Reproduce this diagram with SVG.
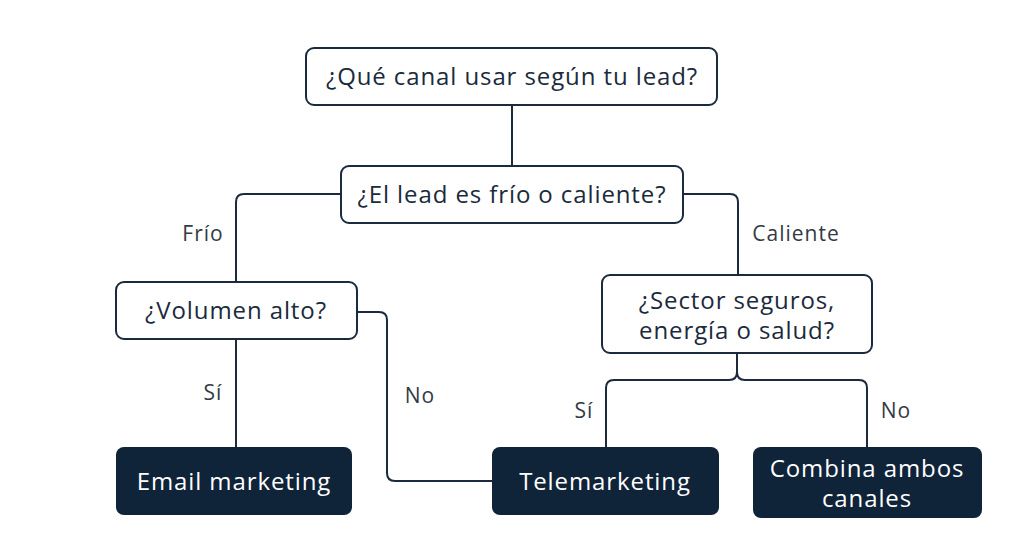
<svg xmlns="http://www.w3.org/2000/svg" width="1024" height="559" viewBox="0 0 1024 559">
<style>
.q{fill:#ffffff;stroke:#1b2a3d;stroke-width:2}
.a{fill:#0f2339;stroke:none}
.qt{font-family:"Open Sans","Liberation Sans",sans-serif;font-size:24px;letter-spacing:0.9px;fill:#1b2a3d;text-anchor:middle}
.at{font-family:"Open Sans","Liberation Sans",sans-serif;font-size:24px;letter-spacing:0.9px;fill:#ffffff;text-anchor:middle}
.lb{font-family:"Open Sans","Liberation Sans",sans-serif;font-size:21px;letter-spacing:1px;fill:#333a44;text-anchor:middle}
.c{fill:none;stroke:#1b2a3d;stroke-width:2}
</style>
<rect width="1024" height="559" fill="#ffffff"/>
<g id="connectors">
<path class="c" d="M512 105 V166"/>
<path class="c" d="M341 194 H244 Q236 194 236 202 V282"/>
<path class="c" d="M683 194 H730 Q738 194 738 202 V275"/>
<path class="c" d="M236 339 V447"/>
<path class="c" d="M357 312 H379 Q387 312 387 320 V473 Q387 481 395 481 H492"/>
<path class="c" d="M737 353 V372 Q737 380 729 380 H614 Q606 380 606 388 V447"/>
<path class="c" d="M737 372 Q737 380 745 380 H859 Q867 380 867 388 V447"/>
</g>
<g id="labels">
<text class="lb" x="203" y="241">Frío</text>
<text class="lb" x="796" y="241">Caliente</text>
<text class="lb" x="213" y="400">Sí</text>
<text class="lb" x="420" y="403">No</text>
<text class="lb" x="584" y="418">Sí</text>
<text class="lb" x="896" y="418">No</text>
</g>
<g id="n1"><rect class="q" x="306" y="48" width="411" height="57" rx="8"/><text class="qt" x="512" y="85">¿Qué canal usar según tu lead?</text></g>
<g id="n2"><rect class="q" x="341" y="166" width="342" height="57" rx="8"/><text class="qt" x="512" y="203">¿El lead es frío o caliente?</text></g>
<g id="n3"><rect class="q" x="116" y="282" width="241" height="57" rx="8"/><text class="qt" x="236" y="319">¿Volumen alto?</text></g>
<g id="n4"><rect class="q" x="602" y="275" width="270" height="78" rx="8"/><text class="qt" x="737" y="309">¿Sector seguros,</text><text class="qt" x="737" y="339">energía o salud?</text></g>
<g id="n5"><rect class="a" x="116" y="447" width="236" height="68" rx="8"/><text class="at" x="234" y="490">Email marketing</text></g>
<g id="n6"><rect class="a" x="492" y="447" width="227" height="68" rx="8"/><text class="at" x="605" y="490">Telemarketing</text></g>
<g id="n7"><rect class="a" x="753" y="447" width="229" height="71" rx="8"/><text class="at" x="867" y="477">Combina ambos</text><text class="at" x="867" y="507">canales</text></g>
</svg>
